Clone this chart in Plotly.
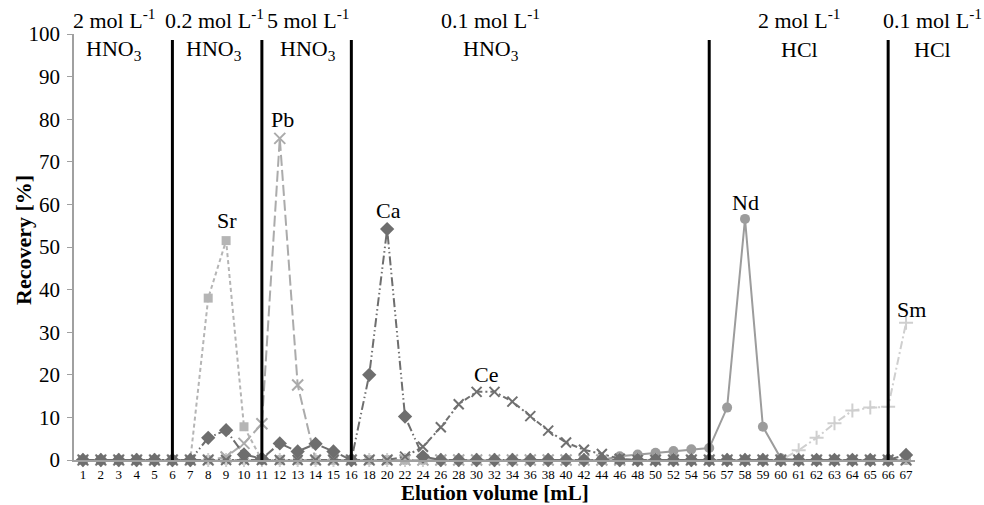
import plotly.graph_objects as go

# ---------------- data ----------------
x_labels = [str(v) for v in range(1, 17)] + [str(v) for v in range(18, 57, 2)] + [str(v) for v in range(57, 68)]

#        1  2  3  4  5  6  7   8     9    10   11  12   13   14   15  16
sr_a = [0, 0, 0, 0, 0, 0, 0, 38.0, 51.5, 7.8, 0, 0, 0, 0, 0, 0]
pb_a = [0, 0, 0, 0, 0, 0, 0, 0, 0.7, 3.9, 8.5, 75.5, 17.6, 0, 0, 0]
ca_a = [0, 0, 0, 0, 0, 0, 0, 5.2, 7.0, 1.3, 0.3, 3.9, 2.0, 3.8, 2.0, 0]
ce_a = [0] * 16
nd_a = [0] * 16
sm_a = [0] * 16

#        18    20    22    24   26   28    30    32    34    36    38   40   42   44   46   48   50   52   54   56
sr_b = [0] * 20
pb_b = [0] * 20
ca_b = [20.0, 54.2, 10.2, 0.8, 0, 0, 0, 0, 0, 0, 0, 0, 0, 0, 0, 0, 0, 0, 0, 0]
ce_b = [0, 0, 0.8, 3.1, 7.7, 13.1, 16.0, 16.0, 13.7, 10.3, 6.9, 4.1, 2.4, 1.4, 0.3, 0, 0, 0, 0, 0]
nd_b = [0, 0, 0, 0, 0, 0, 0, 0, 0, 0, 0, 0, 0, 0, 0.9, 1.3, 1.7, 2.1, 2.5, 2.8]
sm_b = [0] * 20

#        57    58    59   60   61   62   63   64    65    66    67
sr_c = [0] * 11
pb_c = [0] * 11
ca_c = [0, 0, 0, 0, 0, 0, 0, 0, 0, 0, 1.2]
ce_c = [0] * 11
nd_c = [12.3, 56.6, 7.8, 0.4, 0, 0, 0, 0, 0, 0, 0]
sm_c = [0, 0, 0, 0, 2.3, 5.2, 8.6, 11.6, 12.3, 12.5, 32.2]

sr = sr_a + sr_b + sr_c
pb = pb_a + pb_b + pb_c
ca = ca_a + ca_b + ca_c
ce = ce_a + ce_b + ce_c
nd = nd_a + nd_b + nd_c
sm = sm_a + sm_b + sm_c

# eluent change positions (category labels) and eluent labels
divider_labels = ["6", "11", "16", "56", "66"]
eluent_conc = ["2 mol L<sup>-1</sup>", "0.2 mol L<sup>-1</sup>", "5 mol L<sup>-1</sup>",
               "0.1 mol L<sup>-1</sup>", "2 mol L<sup>-1</sup>", "0.1 mol L<sup>-1</sup>"]
eluent_acid = ["HNO<sub>3</sub>", "HNO<sub>3</sub>", "HNO<sub>3</sub>", "HNO<sub>3</sub>", "HCl", "HCl"]
eluent_pos = [1.75, 7.35, 12.6, 22.8, 40.05, 47.5]   # in category-index units

# element peak labels
peak_text = ["Sr", "Pb", "Ca", "Ce", "Nd", "Sm"]
peak_pos = [8.05, 11.15, 17.05, 22.5, 37.05, 46.3]
peak_val = [56.3, 80.0, 58.5, 20.0, 60.4, 35.3]

FONT = "Liberation Serif"
NCAT = len(x_labels)

fig = go.Figure()

def add(y, color, symbol, dash, size, lw=2, mline=0):
    fig.add_trace(go.Scatter(
        x=x_labels, y=y, mode="lines+markers",
        line=dict(color=color, width=lw, dash=dash),
        marker=dict(symbol=symbol, size=size, color=color,
                    line=dict(width=mline, color=color)),
        cliponaxis=False, showlegend=False))

add(nd, "#9c9c9c", "circle", "solid", 10)
add(sm, "#cfcfcf", "cross-thin-open", "8px,3px,2px,3px", 10, mline=2)
add(pb, "#ababab", "x-thin-open", "11px,4px", 11, mline=2)
add(sr, "#b5b5b5", "square", "4px,3px", 9)
add(ce, "#707070", "x-thin-open", "6px,3px,2px,3px", 10, mline=2)
add(ca, "#6e6e6e", "diamond", "9px,3px,1.5px,3px,1.5px,3px", 11)

for d in divider_labels:
    xi = x_labels.index(d)
    fig.add_shape(type="line", xref="x", yref="y", x0=xi, x1=xi, y0=0, y1=98.6,
                  line=dict(color="black", width=3))

def to_paper(p):
    return (p + 0.5) / NCAT

ann = []
for t, p in zip(eluent_conc, eluent_pos):
    ann.append(dict(text=t, x=to_paper(p), xref="paper", y=(460 - 19) / 426, yref="paper",
                    showarrow=False, xanchor="center", yanchor="middle",
                    font=dict(family=FONT, size=22, color="black")))
for t, p in zip(eluent_acid, eluent_pos):
    ann.append(dict(text=t, x=to_paper(p), xref="paper", y=(460 - 50) / 426, yref="paper",
                    showarrow=False, xanchor="center", yanchor="middle",
                    font=dict(family=FONT, size=22, color="black")))
for t, p, v in zip(peak_text, peak_pos, peak_val):
    ann.append(dict(text=t, x=p, xref="x", y=v, yref="y",
                    showarrow=False, xanchor="center", yanchor="middle",
                    font=dict(family=FONT, size=22, color="black")))
ann.append(dict(text="<b>Elution volume [mL]</b>", x=(495 - 74) / 841, xref="paper",
                y=(460 - 493) / 426, yref="paper", showarrow=False,
                xanchor="center", yanchor="middle",
                font=dict(family=FONT, size=21, color="black")))
ann.append(dict(text="<b>Recovery [%]</b>", x=-51 / 841, xref="paper",
                y=(460 - 240) / 426, yref="paper", showarrow=False, textangle=-90,
                xanchor="center", yanchor="middle",
                font=dict(family=FONT, size=22, color="black")))

fig.update_layout(
    width=984, height=505,
    margin=dict(l=74, r=69, t=34, b=45),
    plot_bgcolor="white", paper_bgcolor="white",
    font=dict(family=FONT, color="black"),
    showlegend=False,
    annotations=ann,
    xaxis=dict(type="category", range=[-0.5, NCAT - 0.5],
               tickmode="linear", dtick=1, tick0=0,
               showgrid=False, zeroline=False,
               showline=True, linecolor="#a0a0a0", linewidth=1.5,
               ticks="", ticklabelstandoff=2,
               tickfont=dict(family=FONT, size=13, color="black"),
               tickangle=0),
    yaxis=dict(range=[0, 100], tickvals=list(range(0, 101, 10)),
               showgrid=False, zeroline=False,
               showline=True, linecolor="#a0a0a0", linewidth=1.5,
               ticks="outside", ticklen=5, tickcolor="#a0a0a0",
               ticklabelstandoff=3,
               tickfont=dict(family=FONT, size=21, color="black")),
)

fig.write_html("out.html", config={"displayModeBar": False},
               post_script="document.body.style.margin='0';")
